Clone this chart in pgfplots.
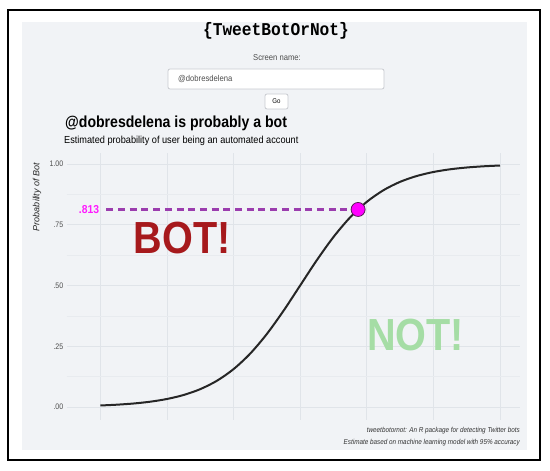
\documentclass[border=0pt]{standalone}
\usepackage{pgfplots}
\pgfplotsset{compat=1.18}
\usepackage{pgfplotstable}
\usepackage{fontspec}
\setmainfont{Liberation Sans}
\newfontfamily\monofont{Liberation Mono}

\definecolor{panel}{HTML}{F1F3F6}
\definecolor{gridmaj}{HTML}{E0E4E9}
\definecolor{gridmin}{HTML}{E8EBEF}
\definecolor{botred}{HTML}{A6191C}
\definecolor{notgreen}{HTML}{A5DDA5}
\definecolor{dashpurple}{HTML}{9B3DAE}
\definecolor{dotfill}{HTML}{FF00FF}
\definecolor{dotedge}{HTML}{5A1A5A}
\definecolor{labelmag}{HTML}{FF1AFF}
\definecolor{ticktext}{HTML}{4D4D4D}
\definecolor{boxedge}{HTML}{C8CBD0}

% estimated probability curve
\pgfplotstableread{
x p
0.00 0.0062
0.25 0.0095
0.50 0.0144
0.75 0.0218
1.00 0.0329
1.25 0.0494
1.50 0.0734
1.75 0.1079
2.00 0.1558
2.25 0.2197
2.50 0.3005
2.75 0.3959
3.00 0.5000
3.25 0.6041
3.50 0.6995
3.75 0.7803
4.00 0.8442
4.25 0.8921
4.50 0.9266
4.75 0.9506
5.00 0.9671
5.25 0.9782
5.50 0.9856
5.75 0.9905
6.00 0.9938
}\curve

\begin{document}
\begin{tikzpicture}
\useasboundingbox (0,0) rectangle (550pt,471pt);
\begin{scope}[x=1pt,y=-1pt,yshift=471pt]
  \fill[panel] (22,22) rectangle (527,450);
  \draw[line width=1.2pt] (8,10) rectangle (540,460);
  \node[xscale=0.9] at (276,31) {\monofont\bfseries\fontsize{18}{20}\selectfont \{TweetBotOrNot\}};
  \node[xscale=0.9,text=ticktext] at (277,58) {\fontsize{8.5}{10}\selectfont Screen name:};
  \draw[boxedge,fill=white,rounded corners=2pt,line width=0.8pt] (168,69) rectangle (384,89);
  \node[anchor=west,xscale=0.9,inner sep=0pt,text=ticktext] at (178,79) {\fontsize{8.5}{10}\selectfont @dobresdelena};
  \draw[boxedge,fill=white,rounded corners=2pt,line width=0.8pt] (265,94) rectangle (288,109);
  \node[xscale=0.9,inner sep=0pt] at (276.5,101.5) {\fontsize{6.8}{8}\selectfont Go};
  \node[anchor=west,xscale=0.88,inner sep=0pt] at (65,123) {\bfseries\fontsize{16}{18}\selectfont @dobresdelena is probably a bot};
  \node[anchor=west,xscale=0.9,inner sep=0pt] at (64,141) {\fontsize{10.2}{12}\selectfont Estimated probability of user being an automated account};
  \node[rotate=90,text=black!85] at (37,197) {\itshape\fontsize{9}{10}\selectfont Probability of Bot};
  \node[anchor=east,xscale=0.88,inner sep=0pt,align=right,text=black!80] at (520,437)
    {\itshape\fontsize{7.2}{11}\selectfont tweetbotornot: An R package for detecting Twitter bots\\
     \itshape\fontsize{7.2}{11}\selectfont Estimate based on machine learning model with 95\% accuracy};
\end{scope}

\begin{axis}[
    at={(67pt,51pt)}, anchor=south west,
    scale only axis,
    width=453pt, height=267pt,
    xmin=-0.5, xmax=6.3,
    ymin=-0.0535, ymax=1.0453,
    axis line style={draw=none},
    tick style={draw=none},
    major tick length=0pt,
    xtick={0,1,...,6},
    xticklabels={},
    ytick={0,0.25,0.5,0.75,1},
    yticklabels={.00,.25,.50,.75,1.00},
    minor ytick={0.125,0.375,0.625,0.875},
    grid=both,
    major grid style={draw=gridmaj,line width=0.8pt},
    minor grid style={draw=gridmin,line width=0.7pt},
    yticklabel style={font=\fontsize{8}{9}\selectfont, text=ticktext, xscale=0.88, anchor=east, inner sep=0pt, xshift=-4pt},
    clip=false,
]
    \addplot[dashpurple, line width=2.4pt, dash pattern=on 7pt off 4.7pt] coordinates {(0.09,0.813) (3.87,0.813)};
    \addplot[black!85, line width=2pt, smooth] table[x=x,y=p] {\curve};
    \addplot[only marks, mark=*, mark size=7pt, mark options={fill=dotfill, draw=dotedge, line width=0.8pt}] coordinates {(3.87,0.813)};
    \node[anchor=east, inner sep=0pt, xscale=0.9, text=labelmag] at (axis cs:-0.015,0.813) {\bfseries\fontsize{11.5}{13}\selectfont .813};
    \node[xscale=0.88, text=botred] at (axis cs:1.23,0.695) {\bfseries\fontsize{45}{50}\selectfont BOT!};
    \node[xscale=0.88, text=notgreen] at (axis cs:4.73,0.297) {\bfseries\fontsize{45}{50}\selectfont NOT!};
\end{axis}
\end{tikzpicture}
\end{document}
